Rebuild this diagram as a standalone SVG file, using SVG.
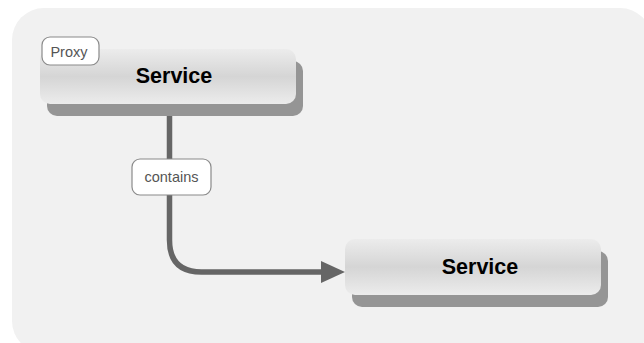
<svg xmlns="http://www.w3.org/2000/svg" width="644" height="343" viewBox="0 0 644 343">
<defs>
<linearGradient id="g" x1="0" y1="0" x2="0" y2="1">
<stop offset="0" stop-color="#ececec"/>
<stop offset="0.5" stop-color="#d5d5d5"/>
<stop offset="1" stop-color="#ececec"/>
</linearGradient>
</defs>
<style>
.shadow{fill:#959595}
.body{fill:url(#g)}
.title{font-family:"Liberation Sans",Arial,sans-serif;font-weight:bold;font-size:21.5px;fill:#000;text-anchor:middle}
.lbl{fill:#fff;stroke:#8a8a8a;stroke-width:1.2}
.lbltxt{font-family:"Liberation Sans",Arial,sans-serif;font-size:14.5px;fill:#555;text-anchor:middle}
.edge{fill:none;stroke:#666;stroke-width:5.5}
</style>
<rect x="12" y="8" width="640" height="345" rx="32" fill="#f1f1f1"/>
<g id="connectors">
<path class="edge" d="M169.5,104 V240 Q169.5,272 201.5,272 H324"/>
<polygon points="321,261 345,272 321,283" fill="#666"/>
<rect class="lbl" x="132" y="159" width="79" height="36" rx="8"/>
<text class="lbltxt" x="171.5" y="182">contains</text>
</g>
<g id="node1">
<rect class="shadow" x="47" y="61" width="256" height="55" rx="10"/>
<rect class="body" x="40" y="49" width="256" height="55" rx="10"/>
<text class="title" x="174" y="83">Service</text>
<rect class="lbl" x="42" y="37" width="57" height="28" rx="8"/>
<text class="lbltxt" x="69" y="56.5">Proxy</text>
</g>
<g id="node2">
<rect class="shadow" x="352" y="251" width="256" height="56" rx="10"/>
<rect class="body" x="345" y="239" width="256" height="56" rx="10"/>
<text class="title" x="480" y="274">Service</text>
</g>
</svg>
